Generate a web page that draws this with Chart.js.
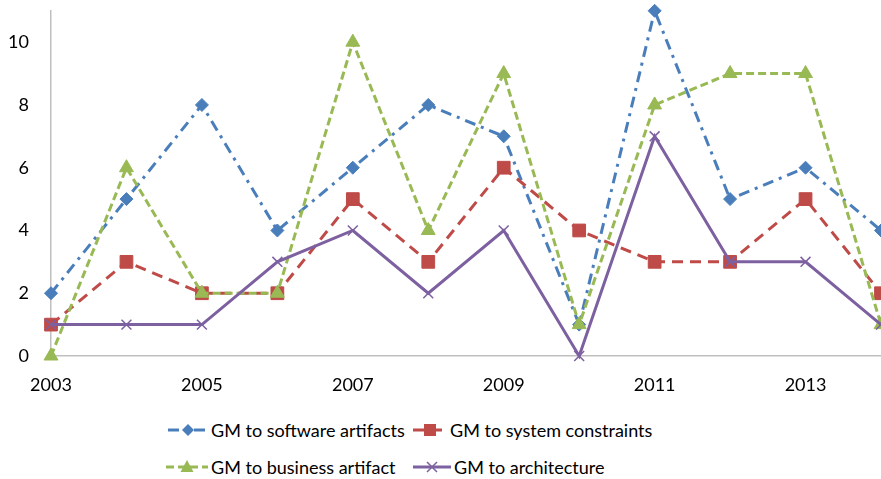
<!DOCTYPE html>
<html>
<head>
<meta charset="utf-8">
<script src="https://cdn.jsdelivr.net/npm/chart.js@4/dist/chart.umd.min.js"></script>
<style>
  body { margin: 0; background: #fff; }
  .wrap { position: relative; width: 881px; height: 479px; overflow: hidden; font-family: Lato, "Liberation Sans", sans-serif; }
  #chart { position: absolute; left: 0; top: -22px; }
  .item { position: absolute; display: flex; align-items: center; height: 24px; font-size: 18px; color: #000; white-space: nowrap; }
  .item canvas { display: block; }
</style>
</head>
<body>
<div class="wrap">
  <canvas id="chart" width="899" height="422"></canvas>
  <div id="legend"></div>
</div>
<script>
const years = ["2003", "2004", "2005", "2006", "2007", "2008", "2009", "2010", "2011", "2012", "2013", "2014"];
const software = [2, 5, 8, 4, 6, 8, 7, 1, 11, 5, 6, 4];
const constraints = [1, 3, 2, 2, 5, 3, 6, 4, 3, 3, 5, 2];
const business = [0, 6, 2, 2, 10, 4, 9, 1, 8, 9, 9, 1];
const architecture = [1, 1, 1, 3, 4, 2, 4, 0, 7, 3, 3, 1];
const yTicks = [0, 2, 4, 6, 8, 10];

const series = [
  { label: "GM to software artifacts", data: software, color: "#4A7EBB", dash: [11, 6, 3, 6], point: "rectRot", radius: 6.5 },
  { label: "GM to system constraints", data: constraints, color: "#BE4B48", dash: [11, 7], point: "rect", radius: 9 },
  { label: "GM to business artifact", data: business, color: "#98B954", dash: [8, 4], point: "triangle", radius: 8 },
  { label: "GM to architecture", data: architecture, color: "#7D60A0", dash: [], point: "crossRot", radius: 7 },
];

const ctx = document.getElementById("chart").getContext("2d");
const tickFont = { family: "Lato, 'Liberation Sans', sans-serif", size: 18 };

new Chart(ctx, {
  type: "line",
  data: {
    labels: years,
    datasets: series.map((s, i) => ({
      label: s.label,
      data: s.data,
      borderColor: s.color,
      backgroundColor: s.color,
      borderWidth: 3,
      borderDash: s.dash,
      pointStyle: s.point,
      pointRadius: s.radius,
      pointBorderWidth: s.point === "crossRot" ? 1.5 : 1,
      pointBorderColor: s.color,
      pointBackgroundColor: s.color,
      tension: 0,
      fill: false,
      clip: false,
      order: series.length - i,
    })),
  },
  options: {
    responsive: false,
    animation: false,
    layout: { padding: { top: 10, right: 1, left: 0, bottom: 0 } },
    plugins: { legend: { display: false }, tooltip: { enabled: false } },
    scales: {
      x: {
        offset: false,
        grid: { display: false, drawTicks: false },
        border: { display: true, color: "#BFBFBF", width: 1.5 },
        ticks: {
          autoSkip: false,
          maxRotation: 0,
          padding: 18,
          color: "#000",
          font: tickFont,
          callback: (v, i) => (i % 2 === 0 ? years[i] : ""),
        },
        afterFit: (scale) => { scale.height = 44; },
      },
      y: {
        min: 0,
        max: 11,
        grid: { display: false, drawTicks: false },
        border: { display: true, color: "#BFBFBF", width: 1.5 },
        ticks: { stepSize: 2, padding: 22, color: "#000", font: tickFont },
        afterBuildTicks: (scale) => { scale.ticks = yTicks.map((v) => ({ value: v })); },
        afterFit: (scale) => { scale.width = 51; },
      },
    },
  },
});

// legend laid out in two columns like the original
const legendPos = [
  { x: 168, y: 418, textX: 211 },
  { x: 413, y: 418, textX: 450 },
  { x: 166, y: 455, textX: 211 },
  { x: 413, y: 455, textX: 454 },
];

const drawIcon = (s, w) => {
  const c = document.createElement("canvas");
  c.width = w;
  c.height = 24;
  const g = c.getContext("2d");
  g.strokeStyle = s.color;
  g.fillStyle = s.color;
  g.lineWidth = 3;
  g.setLineDash(s.dash);
  g.beginPath();
  g.moveTo(0, 12);
  g.lineTo(w, 12);
  g.stroke();
  g.setLineDash([]);
  const cx = w / 2, cy = 12;
  g.beginPath();
  if (s.point === "rectRot") {
    g.moveTo(cx, cy - 6); g.lineTo(cx + 6, cy); g.lineTo(cx, cy + 6); g.lineTo(cx - 6, cy); g.closePath(); g.fill();
  } else if (s.point === "rect") {
    g.fillRect(cx - 6, cy - 6, 12, 12);
  } else if (s.point === "triangle") {
    g.moveTo(cx, cy - 7); g.lineTo(cx + 6.5, cy + 5); g.lineTo(cx - 6.5, cy + 5); g.closePath(); g.fill();
  } else {
    g.lineWidth = 1.5;
    g.moveTo(cx - 5, cy - 5); g.lineTo(cx + 5, cy + 5);
    g.moveTo(cx + 5, cy - 5); g.lineTo(cx - 5, cy + 5);
    g.stroke();
  }
  return c;
};

const legend = document.getElementById("legend");
series.forEach((s, i) => {
  const p = legendPos[i];
  const iconW = p.textX - p.x - 3;
  const icon = document.createElement("div");
  icon.className = "item";
  icon.style.left = p.x + "px";
  icon.style.top = p.y + "px";
  icon.appendChild(drawIcon(s, iconW));
  legend.appendChild(icon);
  const text = document.createElement("div");
  text.className = "item";
  text.style.left = p.textX + "px";
  text.style.top = p.y + "px";
  text.textContent = s.label;
  legend.appendChild(text);
});
</script>
</body>
</html>
